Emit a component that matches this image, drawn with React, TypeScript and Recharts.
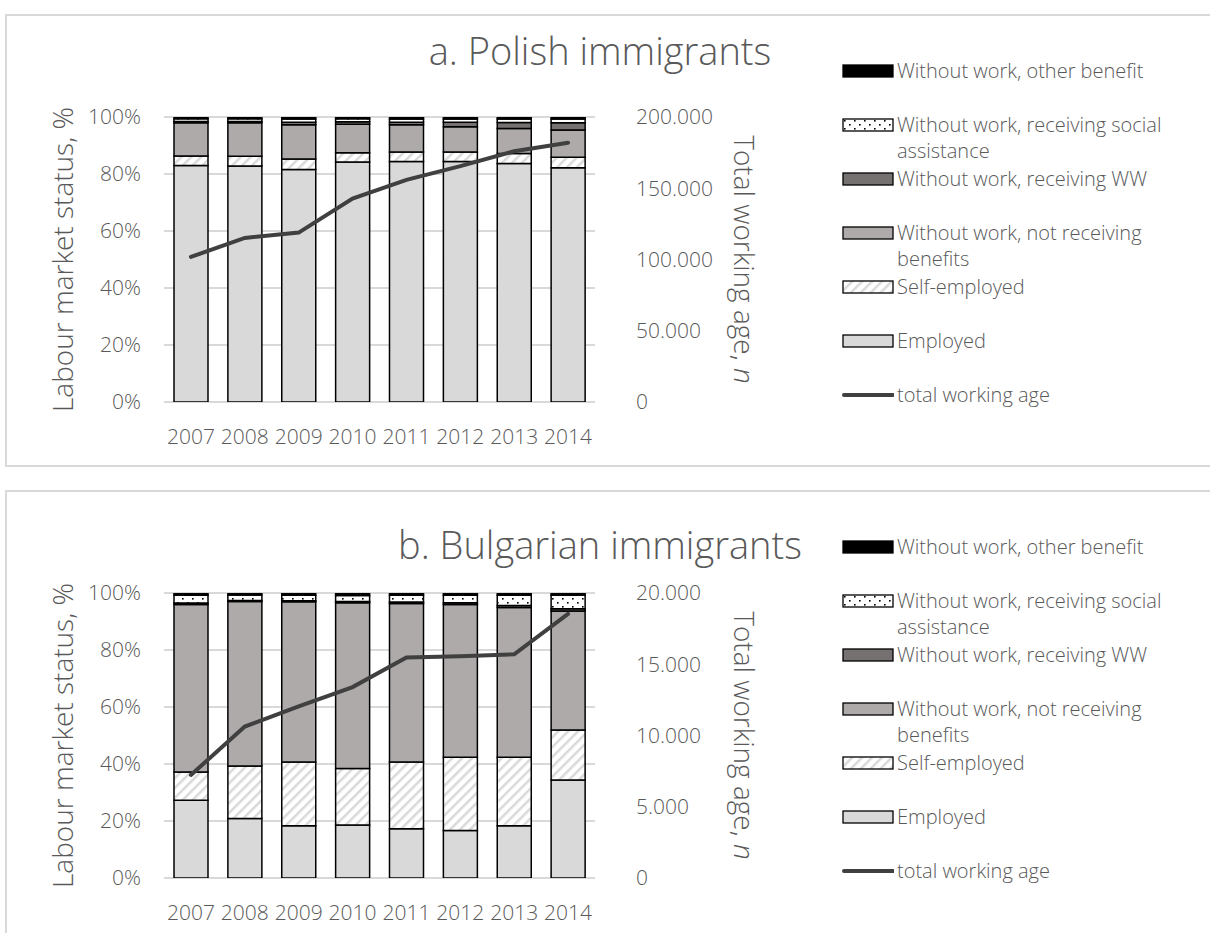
import React from 'react';
import { ComposedChart, Bar, Line, XAxis, YAxis, CartesianGrid } from 'recharts';

const YEARS = ['2007', '2008', '2009', '2010', '2011', '2012', '2013', '2014'];

// a. Polish immigrants, shares in %
const POL_EMPLOYED = [83.0, 82.8, 81.6, 84.2, 84.4, 84.4, 83.7, 82.2];
const POL_SELF = [3.3, 3.4, 3.7, 3.3, 3.3, 3.3, 3.5, 3.7];
const POL_NOBEN = [11.7, 11.8, 12.0, 10.0, 9.6, 8.9, 8.8, 9.5];
const POL_WW = [0.4, 0.4, 0.9, 0.8, 0.9, 1.6, 2.1, 2.6];
const POL_SOCIAL = [1.0, 1.0, 1.1, 1.1, 1.1, 1.1, 1.2, 1.3];
const POL_OTHER = [0.6, 0.6, 0.7, 0.6, 0.7, 0.7, 0.7, 0.7];
const POL_TOTAL = [101800, 115100, 118900, 142800, 155900, 165500, 176000, 182000];
const POL_RIGHT_TICKS = [0, 50000, 100000, 150000, 200000];

// b. Bulgarian immigrants, shares in %
const BG_EMPLOYED = [27.3, 20.9, 18.3, 18.6, 17.3, 16.7, 18.3, 34.4];
const BG_SELF = [9.9, 18.4, 22.4, 19.8, 23.4, 25.7, 24.1, 17.5];
const BG_NOBEN = [58.8, 57.7, 56.2, 58.2, 55.6, 53.6, 52.5, 41.8];
const BG_WW = [0.5, 0.4, 0.4, 0.4, 0.5, 0.6, 0.7, 0.8];
const BG_SOCIAL = [2.7, 1.9, 1.9, 2.1, 2.4, 2.6, 3.6, 4.7];
const BG_OTHER = [0.8, 0.7, 0.8, 0.9, 0.8, 0.8, 0.8, 0.8];
const BG_TOTAL = [7230, 10630, 12050, 13400, 15470, 15560, 15700, 18530];
const BG_RIGHT_TICKS = [0, 5000, 10000, 15000, 20000];

const PCT_TICKS = [0, 20, 40, 60, 80, 100];

const LEGEND = [
  { key: 'other', label: 'Without work, other benefit' },
  { key: 'social', label: 'Without work, receiving social assistance' },
  { key: 'ww', label: 'Without work, receiving WW' },
  { key: 'noben', label: 'Without work, not receiving benefits' },
  { key: 'self', label: 'Self-employed' },
  { key: 'employed', label: 'Employed' },
  { key: 'total', label: 'total working age' },
];

const FONT = "'Open Sans', 'Noto Sans', sans-serif";
const TEXT = '#595959';

const FILLS: Record<string, string> = {
  employed: '#d9d9d9',
  self: 'url(#pat-stripes)',
  noben: '#aeaaaa',
  ww: '#767171',
  social: 'url(#pat-dots)',
  other: '#000000',
};

const fmtThousands = (v: number) => String(v).replace(/\B(?=(\d{3})+(?!\d))/g, '.');

function LeftTitle(props: any) {
  const vb = props.viewBox || { x: 0, y: 117, width: 164, height: 285 };
  const cx = vb.x + 62;
  const cy = vb.y + vb.height / 2;
  return (
    <text
      x={cx}
      y={cy}
      transform={`rotate(-90 ${cx} ${cy})`}
      textAnchor="middle"
      dominantBaseline="central"
      fill={TEXT}
      fontSize={28}
      fontWeight={300}
      fontFamily={FONT}
    >
      Labour market status, %
    </text>
  );
}

function RightTitle(props: any) {
  const vb = props.viewBox || { x: 595, y: 117, width: 615, height: 285 };
  const cx = vb.x + 150;
  const cy = vb.y + vb.height / 2;
  return (
    <text
      x={cx}
      y={cy}
      transform={`rotate(90 ${cx} ${cy})`}
      textAnchor="middle"
      dominantBaseline="central"
      fill={TEXT}
      fontSize={28}
      fontWeight={300}
      fontFamily={FONT}
    >
      <tspan>Total working age, </tspan>
      <tspan fontStyle="italic">n</tspan>
    </text>
  );
}

function Swatch({ kind }: { kind: string }) {
  if (kind === 'total') {
    return (
      <svg width={52} height={14} style={{ flex: 'none', display: 'block' }}>
        <line x1={2} y1={7} x2={51} y2={7} stroke="#404040" strokeWidth={4} strokeLinecap="round" />
      </svg>
    );
  }
  return (
    <svg width={52} height={14} style={{ flex: 'none', display: 'block' }}>
      <rect x={1} y={1} width={50} height={12} fill={FILLS[kind]} stroke="#000" strokeWidth={1.3} />
    </svg>
  );
}

function ChartLegend() {
  return (
    <div style={{ position: 'absolute', left: 842, top: 58, fontFamily: FONT, fontWeight: 300, color: TEXT }}>
      {LEGEND.map((item) => (
        <div key={item.key} style={{ height: 54, display: 'flex', alignItems: 'flex-start' }}>
          <div style={{ paddingTop: 6 }}>
            <Swatch kind={item.key} />
          </div>
          <div style={{ width: 295, fontSize: 20, lineHeight: '26px', marginLeft: 3, whiteSpace: 'normal' }}>
            {item.label}
          </div>
        </div>
      ))}
    </div>
  );
}

interface PanelProps {
  top: number;
  title: string;
  titleY: number;
  employed: number[];
  self: number[];
  noben: number[];
  ww: number[];
  social: number[];
  other: number[];
  total: number[];
  rightTicks: number[];
}

function Panel(p: PanelProps) {
  const data = YEARS.map((year, i) => ({
    year,
    employed: p.employed[i],
    self: p.self[i],
    noben: p.noben[i],
    ww: p.ww[i],
    social: p.social[i],
    other: p.other[i],
    total: p.total[i],
  }));
  const tick = { fill: TEXT, fontSize: 21, fontFamily: FONT, fontWeight: 300 };
  const bars = ['employed', 'self', 'noben', 'ww', 'social', 'other'];
  return (
    <div style={{ position: 'absolute', left: 0, top: p.top, width: 1210, height: 467 }}>
      <div
        style={{
          position: 'absolute',
          left: 5,
          top: 14,
          width: 1215,
          height: 453,
          border: '2px solid #d9d9d9',
          boxSizing: 'border-box',
          background: '#fff',
        }}
      />
      <div style={{ position: 'absolute', left: 0, top: 0 }}>
        <ComposedChart width={1210} height={467} data={data} margin={{ top: 117, right: 0, bottom: 5, left: 0 }}>
          <CartesianGrid vertical={false} stroke="#d9d9d9" strokeWidth={2} yAxisId="left" />
          <XAxis
            dataKey="year"
            tick={tick}
            tickLine={false}
            axisLine={false}
            tickSize={0}
            tickMargin={27}
            height={60}
            interval={0}
          />
          <YAxis
            yAxisId="left"
            orientation="left"
            width={164}
            domain={[0, 100]}
            ticks={PCT_TICKS}
            allowDataOverflow
            tickFormatter={(v: number) => `${v}%`}
            tick={tick}
            tickLine={false}
            axisLine={false}
            tickSize={0}
            tickMargin={23}
            label={<LeftTitle />}
          />
          <YAxis
            yAxisId="right"
            orientation="right"
            width={615}
            domain={[0, p.rightTicks[p.rightTicks.length - 1]]}
            ticks={p.rightTicks}
            tickFormatter={fmtThousands}
            tick={{ ...tick, textAnchor: 'start' }}
            tickLine={false}
            axisLine={false}
            tickSize={0}
            tickMargin={41}
            label={<RightTitle />}
          />
          {bars.map((k) => (
            <Bar
              key={k}
              dataKey={k}
              stackId="s"
              yAxisId="left"
              barSize={34}
              fill={FILLS[k]}
              stroke="#000"
              strokeWidth={1.5}
              isAnimationActive={false}
            />
          ))}
          <Line
            type="linear"
            dataKey="total"
            yAxisId="right"
            stroke="#404040"
            strokeWidth={4}
            strokeLinecap="round"
            dot={false}
            activeDot={false}
            isAnimationActive={false}
          />
        </ComposedChart>
      </div>
      <div
        style={{
          position: 'absolute',
          left: 0,
          width: 1200,
          top: p.titleY - 25,
          height: 50,
          lineHeight: '50px',
          textAlign: 'center',
          fontFamily: FONT,
          fontWeight: 300,
          fontSize: 38,
          color: TEXT,
          whiteSpace: 'nowrap',
        }}
      >
        {p.title}
      </div>
      <ChartLegend />
    </div>
  );
}

export default function App() {
  return (
    <div style={{ position: 'absolute', left: 0, top: 0, width: 1210, height: 933, overflow: 'hidden', background: '#fff' }}>
      <svg width={0} height={0} style={{ position: 'absolute' }}>
        <defs>
          <pattern id="pat-stripes" patternUnits="userSpaceOnUse" width={7} height={7} patternTransform="rotate(45)">
            <rect x={0} y={0} width={7} height={7} fill="#fff" />
            <rect x={0} y={0} width={2.5} height={7} fill="#d9d9d9" />
          </pattern>
          <pattern id="pat-dots" patternUnits="userSpaceOnUse" width={10} height={8}>
            <rect x={0} y={0} width={10} height={8} fill="#fff" />
            <rect x={2} y={2} width={1.6} height={1.6} fill="#000" />
            <rect x={7} y={6} width={1.6} height={1.6} fill="#000" />
          </pattern>
        </defs>
      </svg>
      <Panel
        top={0}
        title="a. Polish immigrants"
        titleY={50}
        employed={POL_EMPLOYED}
        self={POL_SELF}
        noben={POL_NOBEN}
        ww={POL_WW}
        social={POL_SOCIAL}
        other={POL_OTHER}
        total={POL_TOTAL}
        rightTicks={POL_RIGHT_TICKS}
      />
      <Panel
        top={476}
        title="b. Bulgarian immigrants"
        titleY={68}
        employed={BG_EMPLOYED}
        self={BG_SELF}
        noben={BG_NOBEN}
        ww={BG_WW}
        social={BG_SOCIAL}
        other={BG_OTHER}
        total={BG_TOTAL}
        rightTicks={BG_RIGHT_TICKS}
      />
    </div>
  );
}
